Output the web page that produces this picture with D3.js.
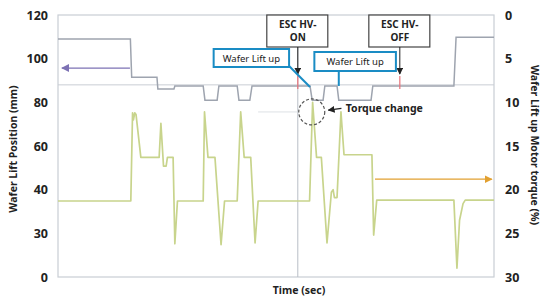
<!DOCTYPE html>
<html>
<head>
<meta charset="utf-8">
<script src="https://cdn.jsdelivr.net/npm/d3@7"></script>
<style>
  body { margin: 0; background: #fff; }
  text { font-family: "Noto Sans", "Open Sans", sans-serif; fill: #222; }
</style>
</head>
<body>
<div id="chart"></div>
<script>
var width = 550, height = 304;
var plot = { left: 58, right: 494, top: 15, bottom: 277 };

// axis tick labels (left one is not evenly spaced in value)
var leftTicks = [0, 30, 40, 60, 80, 100, 120];
var rightTicks = [0, 5, 10, 15, 20, 25, 30];

// wafer lift position (mm), time in sec
var posTime = [0, 16.6, 16.9, 22.7, 22.9, 26.6, 26.8, 33.3, 33.7, 36.5, 36.9, 41.1, 41.5, 44.0, 44.5,
  57.8, 58.3, 60.8, 61.2, 64.0, 64.4, 71.8, 72.2, 90.8, 91.3, 100];
var posValue = [109, 109, 91.5, 91.5, 86.1, 86.1, 87.5, 87.5, 81, 81, 87.5, 87.5, 81, 81, 87.5,
  87.5, 81, 81, 87.5, 87.5, 81, 81, 87.5, 87.5, 109.8, 109.8];

// lift motor torque (%)
var torqueTime = [0, 16.7, 17.1, 17.3, 17.6, 17.9, 19.0, 23.2, 23.6, 24.2, 24.8, 25.1, 26.4, 26.8, 27.4,
  33.3, 33.6, 34.4, 36.0, 37.4, 38.2, 41.1, 41.9, 42.7, 44.2, 45.2, 45.9,
  57.7, 58.4, 59.3, 60.4, 61.7, 62.7, 63.1, 63.4, 64.0, 64.9, 65.6, 72.0, 72.4, 73.1,
  90.8, 91.5, 92.1, 92.9, 93.4, 100];
var torqueValue = [21.3, 21.3, 11.2, 12.0, 11.2, 11.4, 16.3, 16.3, 12.4, 17.3, 17.3, 16.3, 16.3, 26.2, 21.3,
  21.3, 11.1, 16.3, 16.3, 26.3, 21.3, 21.3, 11.1, 16.3, 16.3, 26.1, 21.3,
  21.3, 10.0, 16.3, 16.3, 26.1, 20.3, 20.0, 20.9, 20.9, 11.1, 16.0, 16.0, 25.2, 21.2,
  21.2, 29.0, 23.5, 21.6, 21.2, 21.2];

var escOnTime = 55.0, escOffTime = 78.4;

var posData = posTime.map(function(t, i) { return { t: t, v: posValue[i] }; });
var torqueData = torqueTime.map(function(t, i) { return { t: t, v: torqueValue[i] }; });

var x = d3.scaleLinear().domain([0, 100]).range([plot.left, plot.right]);
var step = (plot.bottom - plot.top) / (leftTicks.length - 1);
var yPos = d3.scaleLinear().domain(leftTicks)
  .range(leftTicks.map(function(d, i) { return plot.bottom - i * step; }));
var yTorque = d3.scaleLinear().domain([0, 30]).range([plot.top, plot.bottom]);

var svg = d3.select('#chart').append('svg')
  .attr('width', width).attr('height', height);

var defs = svg.append('defs');
function marker(id, color, w) {
  defs.append('marker')
    .attr('id', id).attr('viewBox', '0 -5 10 10')
    .attr('refX', 9).attr('refY', 0)
    .attr('markerWidth', w).attr('markerHeight', w)
    .attr('markerUnits', 'userSpaceOnUse')
    .attr('orient', 'auto')
    .append('path').attr('d', 'M0,-5L10,0L0,5Z').attr('fill', color);
}
marker('arPurple', '#7d72b4', 8);
marker('arOrange', '#e2a030', 8);
marker('arDark', '#222', 7);

// frame + grid
svg.append('rect')
  .attr('x', plot.left).attr('y', plot.top)
  .attr('width', plot.right - plot.left).attr('height', plot.bottom - plot.top)
  .attr('fill', 'none').attr('stroke', '#c9ced4').attr('stroke-width', 1.2);

svg.append('line')
  .attr('x1', plot.left).attr('x2', plot.right)
  .attr('y1', yPos(88)).attr('y2', yPos(88))
  .attr('stroke', '#c9ced4');
svg.append('line')
  .attr('x1', x(escOnTime)).attr('x2', x(escOnTime))
  .attr('y1', plot.top).attr('y2', plot.bottom)
  .attr('stroke', '#b8bec6');
svg.append('line')
  .attr('x1', x(45.9)).attr('x2', x(escOnTime))
  .attr('y1', yTorque(11.1)).attr('y2', yTorque(11.1))
  .attr('stroke', '#dde1e5');

// axes
var leftAxis = svg.append('g')
  .attr('transform', 'translate(' + (plot.left - 10) + ',0)')
  .call(d3.axisLeft(yPos).tickValues(leftTicks).tickSize(0).tickPadding(0));
var rightAxis = svg.append('g')
  .attr('transform', 'translate(' + (plot.right + 11) + ',0)')
  .call(d3.axisRight(yTorque).tickValues(rightTicks).tickSize(0).tickPadding(0));
[leftAxis, rightAxis].forEach(function(a) {
  a.select('.domain').remove();
  a.selectAll('text').style('font-size', '12.5px').style('font-weight', 'bold')
    .style('font-family', '"Noto Sans", sans-serif').attr('fill', '#222');
});

svg.append('text')
  .attr('transform', 'translate(17,149) rotate(-90)')
  .attr('text-anchor', 'middle')
  .style('font-size', '10.5px').style('font-weight', 'bold')
  .text('Wafer Lift Position (mm)');
svg.append('text')
  .attr('transform', 'translate(531,145) rotate(90)')
  .attr('text-anchor', 'middle')
  .style('font-size', '10.5px').style('font-weight', 'bold')
  .text('Wafer Lift up Motor torque (%)');
svg.append('text')
  .attr('x', 299).attr('y', 294)
  .attr('text-anchor', 'middle')
  .style('font-size', '10.5px').style('font-weight', 'bold')
  .text('Time (sec)');

// series
var line = d3.line().x(function(d) { return x(d.t); });

svg.append('path')
  .datum(torqueData)
  .attr('d', line.y(function(d) { return yTorque(d.v); }))
  .attr('fill', 'none').attr('stroke', '#c8d48c').attr('stroke-width', 1.7)
  .attr('stroke-linejoin', 'round');

svg.append('path')
  .datum(posData)
  .attr('d', line.y(function(d) { return yPos(d.v); }))
  .attr('fill', 'none').attr('stroke', '#9ea4af').attr('stroke-width', 1.5);

// axis arrows
svg.append('line')
  .attr('x1', x(16.5)).attr('x2', x(0.9))
  .attr('y1', yPos(95.7)).attr('y2', yPos(95.7))
  .attr('stroke', '#7d72b4').attr('stroke-width', 1.2)
  .attr('marker-end', 'url(#arPurple)');
svg.append('line')
  .attr('x1', x(72.7)).attr('x2', x(99.5))
  .attr('y1', yTorque(18.8)).attr('y2', yTorque(18.8))
  .attr('stroke', '#e2a030').attr('stroke-width', 1.2)
  .attr('marker-end', 'url(#arOrange)');

// ESC HV boxes
function escBox(t, label) {
  var cx = x(t);
  var g = svg.append('g');
  g.append('rect')
    .attr('x', cx - 31).attr('y', plot.top).attr('width', 61).attr('height', 32)
    .attr('fill', '#fff').attr('stroke', '#444').attr('stroke-width', 1.2);
  g.append('text').attr('x', cx).attr('y', plot.top + 13).attr('text-anchor', 'middle')
    .style('font-size', '10px').style('font-weight', 'bold').text('ESC HV-');
  g.append('text').attr('x', cx).attr('y', plot.top + 26).attr('text-anchor', 'middle')
    .style('font-size', '10px').style('font-weight', 'bold').text(label);
  g.append('line')
    .attr('x1', cx).attr('x2', cx).attr('y1', plot.top + 32).attr('y2', plot.top + 59)
    .attr('stroke', '#222').attr('stroke-width', 1)
    .attr('marker-end', 'url(#arDark)');
  g.append('line')
    .attr('x1', cx).attr('x2', cx).attr('y1', plot.top + 61).attr('y2', plot.top + 74)
    .attr('stroke', '#e8727a').attr('stroke-width', 1.2);
}
escBox(escOnTime, 'ON');
escBox(escOffTime, 'OFF');

// wafer lift up boxes
function liftBox(x0, x1, y0, y1) {
  svg.append('rect')
    .attr('x', x0).attr('y', y0).attr('width', x1 - x0).attr('height', y1 - y0)
    .attr('fill', '#fff').attr('stroke', '#1a8cc4').attr('stroke-width', 2);
  svg.append('text')
    .attr('x', (x0 + x1) / 2).attr('y', (y0 + y1) / 2 + 3.5).attr('text-anchor', 'middle')
    .style('font-size', '9.5px').attr('fill', '#333').text('Wafer Lift up');
}
liftBox(x(35.7), x(53.0), 49, 67);
liftBox(x(58.8), x(77.5), 52, 71);
svg.append('line')
  .attr('x1', x(53.0)).attr('y1', 66).attr('x2', x(57.8)).attr('y2', yPos(87))
  .attr('stroke', '#1a8cc4').attr('stroke-width', 2);
svg.append('line')
  .attr('x1', x(64.4)).attr('y1', 71).attr('x2', x(64.4)).attr('y2', yPos(87.5))
  .attr('stroke', '#1a8cc4').attr('stroke-width', 2);

// torque change callout
svg.append('circle')
  .attr('cx', x(58.2)).attr('cy', yTorque(11.1)).attr('r', 13)
  .attr('fill', 'none').attr('stroke', '#555').attr('stroke-width', 1.2)
  .attr('stroke-dasharray', '3,2');
svg.append('line')
  .attr('x1', x(65.0)).attr('x2', x(62.0))
  .attr('y1', yTorque(10.7)).attr('y2', yTorque(10.9))
  .attr('stroke', '#222').attr('stroke-width', 1.2)
  .attr('marker-end', 'url(#arDark)');
svg.append('text')
  .attr('x', x(66.0)).attr('y', yTorque(10.7) + 4)
  .style('font-size', '10.5px').style('font-weight', 'bold')
  .text('Torque change');
</script>
</body>
</html>
